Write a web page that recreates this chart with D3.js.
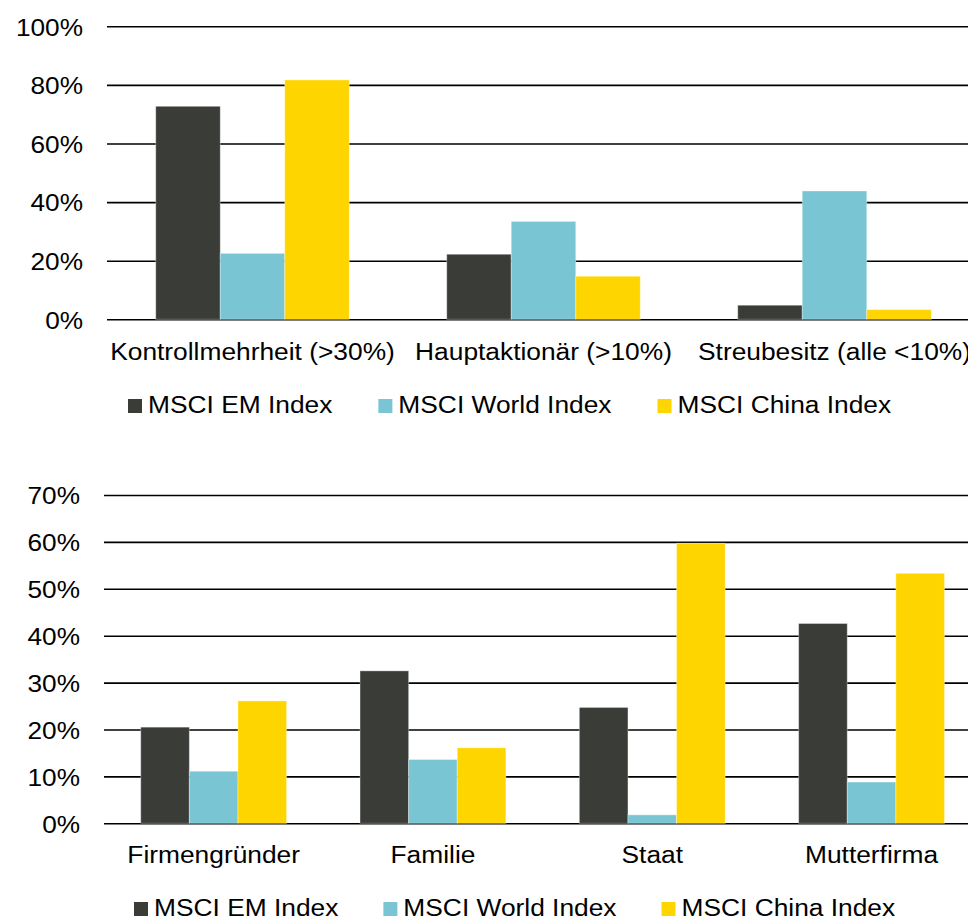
<!DOCTYPE html>
<html>
<head>
<meta charset="utf-8">
<script src="https://cdn.jsdelivr.net/npm/d3@7"></script>
<style>
  html, body { margin: 0; padding: 0; background: #fff; }
  svg { display: block; font-family: "Liberation Sans", Arial, sans-serif; }
</style>
</head>
<body>
<svg id="chart" width="968" height="920"></svg>
<script>
// Series shared by both panels
const seriesNames = ["MSCI EM Index", "MSCI World Index", "MSCI China Index"];
const seriesColors = ["#3a3c38", "#7ac5d4", "#ffd500"];

// Upper panel: shareholder structure (% of companies)
const topCategories = ["Kontrollmehrheit (>30%)", "Hauptaktionär (>10%)", "Streubesitz (alle <10%)"];
const topEM    = [72.7, 22.2, 4.8];
const topWorld = [22.5, 33.4, 43.8];
const topChina = [81.7, 14.7, 3.3];
const topTicks = [0, 20, 40, 60, 80, 100];

// Lower panel: type of controlling shareholder (%)
const bottomCategories = ["Firmengründer", "Familie", "Staat", "Mutterfirma"];
const bottomEM    = [20.5, 32.5, 24.7, 42.6];
const bottomWorld = [11.1, 13.6, 1.8, 8.8];
const bottomChina = [26.1, 16.1, 59.7, 53.3];
const bottomTicks = [0, 10, 20, 30, 40, 50, 60, 70];

const svg = d3.select("#chart");
const W = 968;
const STRETCH = 1.145;      // horizontal widening of label text
const TICK_STRETCH = 1.07;  // horizontal widening of tick labels

function drawPanel(cfg) {
  const { categories, series, ticks, yMax, x0, x1, yBottom, yTop,
          labelBaseline, legendBaseline, legendStart } = cfg;

  const y = d3.scaleLinear().domain([0, yMax]).range([yBottom, yTop]);
  const xCat = d3.scaleBand().domain(categories).range([x0, x1])
    .paddingInner(0.335).paddingOuter(0.1675);
  const xSer = d3.scaleBand().domain(seriesNames).range([0, xCat.bandwidth()]);

  const g = svg.append("g");

  // Gridlines and tick labels
  const axis = d3.axisLeft(y).tickValues(ticks)
    .tickFormat(d => d + "%")
    .tickSize(-(W - x0)).tickPadding(cfg.tickPad);
  const ax = g.append("g").attr("transform", `translate(${x0},0)`).call(axis);
  ax.select(".domain").remove();
  ax.selectAll(".tick line").attr("stroke", "#000").attr("stroke-width", 1.6);
  ax.selectAll(".tick text")
    .attr("x", 0)
    .attr("transform", `translate(${-cfg.tickPad},0) scale(${TICK_STRETCH},1)`)
    .attr("fill", "#000")
    .attr("font-size", 24.5)
    .attr("font-family", "Liberation Sans, Arial, sans-serif")
    .attr("dy", "0.36em");

  // Bars
  const rows = categories.map((c, i) => ({ cat: c, vals: series.map(s => s[i]) }));
  const grp = g.append("g").selectAll("g").data(rows).join("g")
    .attr("transform", d => `translate(${xCat(d.cat)},0)`);
  grp.selectAll("rect")
    .data(d => d.vals.map((v, k) => ({ v, k })))
    .join("rect")
    .attr("x", d => xSer(seriesNames[d.k]))
    .attr("width", xSer.bandwidth())
    .attr("y", d => y(d.v))
    .attr("height", d => y(0) - y(d.v))
    .attr("fill", d => seriesColors[d.k])
    .attr("stroke", "#fff")
    .attr("stroke-opacity", 0.35)
    .attr("stroke-width", 1);

  // Category labels
  g.append("g").selectAll("text").data(categories).join("text")
    .attr("transform", d => `translate(${xCat(d) + xCat.bandwidth() / 2},${labelBaseline}) scale(${STRETCH},1)`)
    .attr("text-anchor", "middle")
    .attr("font-size", 23)
    .attr("fill", "#000")
    .text(d => d);

  // Legend
  const leg = g.append("g");
  let lx = legendStart;
  seriesNames.forEach((name, k) => {
    leg.append("rect")
      .attr("x", lx).attr("y", legendBaseline - 14)
      .attr("width", 14).attr("height", 14)
      .attr("fill", seriesColors[k]);
    const t = leg.append("text")
      .attr("transform", `translate(${lx + 20},${legendBaseline}) scale(${STRETCH},1)`)
      .attr("font-size", 23)
      .attr("fill", "#000")
      .text(name);
    const w = t.node().getComputedTextLength() * STRETCH;
    lx += 20 + w + cfg.legendGap;
  });
}

drawPanel({
  categories: topCategories,
  series: [topEM, topWorld, topChina],
  ticks: topTicks, yMax: 100,
  x0: 107, x1: 980, yBottom: 319.3, yTop: 26.3, tickPad: 24,
  labelBaseline: 360, legendBaseline: 413, legendStart: 128, legendGap: 46
});

drawPanel({
  categories: bottomCategories,
  series: [bottomEM, bottomWorld, bottomChina],
  ticks: bottomTicks, yMax: 70,
  x0: 104, x1: 981.2, yBottom: 823.3, yTop: 495, tickPad: 24,
  labelBaseline: 863, legendBaseline: 916, legendStart: 134, legendGap: 45
});
</script>
</body>
</html>
